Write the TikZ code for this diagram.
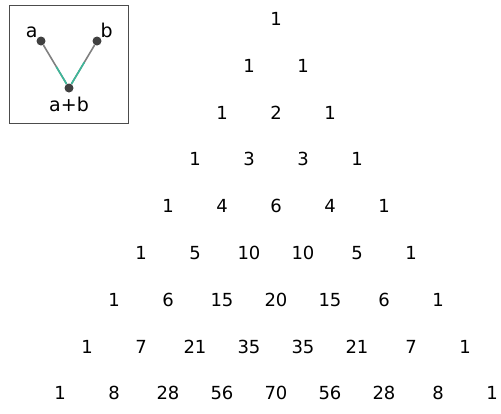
\documentclass[tikz,border=0pt]{standalone}
\usepackage{fontspec}
\setmainfont{DejaVu Sans}
\usepackage{xcolor}
\usetikzlibrary{positioning, calc}
\definecolor{dotgray}{HTML}{404040}
\definecolor{linegray}{HTML}{808080}
\definecolor{lineteal}{HTML}{3DB89A}

\tikzset{
  num/.style={font=\fontsize{18}{20}\selectfont, inner sep=0pt},
  lbl/.style={font=\fontsize{19}{21}\selectfont, inner sep=0pt},
  dot/.style={circle, fill=dotgray, minimum size=9pt, inner sep=0pt},
}

\begin{document}
\begin{tikzpicture}[x=1pt, y=1pt]
\useasboundingbox (0,0) rectangle (501,-413);

% Legend box
\node[draw=black!70, line width=0.8pt, minimum width=119pt, minimum height=118pt, inner sep=0pt] (legend) at (68.5,-64) {};
\node[dot] (a) at (41,-41) {};
\node[dot] (b) at (97,-41) {};
\node[dot] (ab) at (69,-88) {};
\node[lbl, above left=0pt of a] (alabel) {a};
\node[lbl, above right=0pt of b] (blabel) {b};
\node[lbl, below=4pt of ab] (ablabel) {a+b};
\draw[linegray, line width=1.6pt] (a) -- (ab);
\draw[linegray, line width=1.6pt] (b) -- (ab);
\draw[lineteal, line width=1.6pt] ($(a)!0.55!(ab)$) -- (ab);
\draw[lineteal, line width=1.6pt] ($(b)!0.45!(ab)$) -- (ab);

% Pascal triangle, row by row
\foreach \n in {0,...,8} {
  \xdef\val{1}
  \foreach \k in {0,...,\n} {
    \node[num] (p\n-\k) at ({276+(\k-\n/2)*54}, {-19-\n*46.8}) {\val};
    \pgfmathtruncatemacro\nv{round(\val*(\n-\k)/(\k+1))}
    \xdef\val{\nv}
  }
}

\end{tikzpicture}
\end{document}
